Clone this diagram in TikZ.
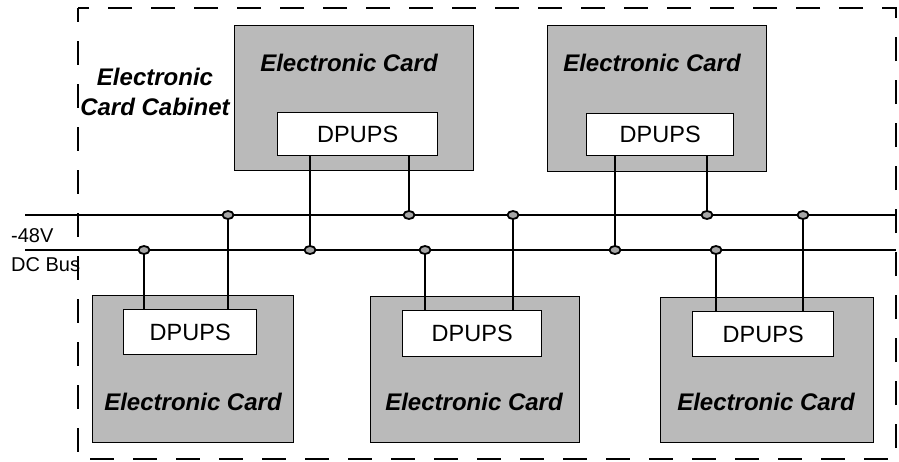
\documentclass[tikz,border=0pt]{standalone}
\usepackage{fontspec}
\setmainfont{Liberation Sans}
\usetikzlibrary{shapes.geometric}
\begin{document}
\begin{tikzpicture}[x=1pt,y=-1pt,
  card/.style={draw=black, line width=1.4pt, fill=black!27, anchor=north west, inner sep=0pt},
  ups/.style={draw=black, line width=1.4pt, fill=white, anchor=north west, inner sep=0pt},
  upstext/.style={font=\fontsize{23.5}{27}\selectfont},
  cardlabel/.style={font=\fontsize{24}{28}\selectfont\bfseries\itshape, text=black},
  bus/.style={line width=1.8pt},
  wire/.style={line width=1.4pt},
  tap/.style={ellipse, draw=black, line width=1.8pt, fill=black!35, minimum width=11pt,
    minimum height=8pt, inner sep=0pt},
  side/.style={font=\fontsize{20}{23}\selectfont, anchor=west, inner sep=0pt}
]
\useasboundingbox (0,0) rectangle (899,461);

% cabinet outline
\draw[line width=1.8pt, dash pattern=on 24pt off 19pt, dash phase=10pt] (78,8) rectangle (896,459);
\node[font=\fontsize{24}{30}\selectfont\bfseries\itshape, align=center] (cablabel) at (155,92)
  {Electronic\\Card Cabinet};

% cards
\node[card, minimum width=239pt, minimum height=145pt] (c1) at (234,25) {};
\node[card, minimum width=219pt, minimum height=146pt] (c2) at (547,25) {};
\node[card, minimum width=201pt, minimum height=147pt] (c3) at (92,295) {};
\node[card, minimum width=209pt, minimum height=146pt] (c4) at (370,296) {};
\node[card, minimum width=213pt, minimum height=145pt] (c5) at (660,297) {};

\node[cardlabel] (l1) at (349,63) {Electronic Card};
\node[cardlabel] (l2) at (652,63) {Electronic Card};
\node[cardlabel] (l3) at (193,402) {Electronic Card};
\node[cardlabel] (l4) at (474,402) {Electronic Card};
\node[cardlabel] (l5) at (766,402) {Electronic Card};

% DPUPS modules
\node[ups, minimum width=160pt, minimum height=43pt] (d1) at (277,112) {};
\node[ups, minimum width=147pt, minimum height=42pt] (d2) at (586,113) {};
\node[ups, minimum width=133pt, minimum height=45pt] (d3) at (123,309) {};
\node[ups, minimum width=139pt, minimum height=46pt] (d4) at (402,310) {};
\node[ups, minimum width=141pt, minimum height=45pt] (d5) at (692,311) {};
\foreach \d in {d1,d2,d3,d4,d5}
  \node[upstext] (\d t) at (\d.center) {DPUPS};

% bus lines
\coordinate (ua) at (25,215);
\coordinate (ub) at (896,215);
\coordinate (la) at (25,250);
\coordinate (lb) at (896,250);
\draw[bus] (ua) -- (ub);
\draw[bus] (la) -- (lb);
\node[side] (v48) at (11,236) {-48V};
\node[side] (dcb) at (11,265) {DC Bus};

% taps on the buses
\coordinate (u1) at (228,215);
\coordinate (u2) at (409,215);
\coordinate (u3) at (513,215);
\coordinate (u4) at (707,215);
\coordinate (u5) at (803,215);
\coordinate (w1) at (144,250);
\coordinate (w2) at (310,250);
\coordinate (w3) at (425,250);
\coordinate (w4) at (615,250);
\coordinate (w5) at (716,250);

% feeds from each DPUPS
\draw[wire] (d1.south -| w2) -- (w2);
\draw[wire] (d1.south -| u2) -- (u2);
\draw[wire] (d2.south -| w4) -- (w4);
\draw[wire] (d2.south -| u4) -- (u4);
\draw[wire] (d3.north -| w1) -- (w1);
\draw[wire] (d3.north -| u1) -- (u1);
\draw[wire] (d4.north -| w3) -- (w3);
\draw[wire] (d4.north -| u3) -- (u3);
\draw[wire] (d5.north -| w5) -- (w5);
\draw[wire] (d5.north -| u5) -- (u5);

\foreach \p in {u1,u2,u3,u4,u5,w1,w2,w3,w4,w5}
  \node[tap] (t\p) at (\p) {};
\end{tikzpicture}
\end{document}
